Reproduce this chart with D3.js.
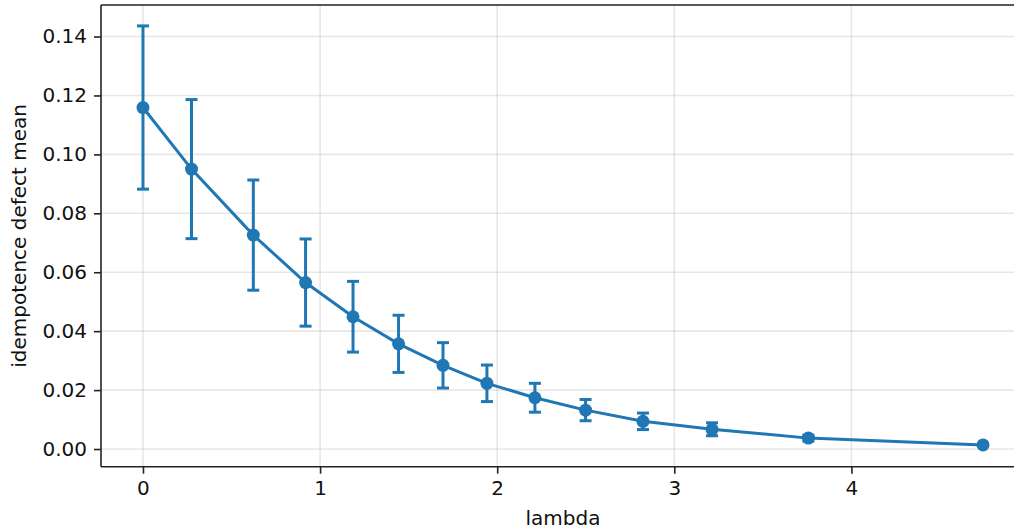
<!DOCTYPE html>
<html>
<head>
<meta charset="utf-8">
<script src="https://cdn.jsdelivr.net/npm/d3@7"></script>
<style>
  body { margin: 0; background: #fff; }
  svg { display: block; font-family: "DejaVu Sans", sans-serif; }
</style>
</head>
<body>
<div id="plot-container"></div>
<script>
// values
const lambdas = [0, 0.274, 0.623, 0.918, 1.186, 1.443, 1.694, 1.942, 2.213, 2.499, 2.823, 3.213, 3.757, 4.743];
const defectMean = [0.1159, 0.0950, 0.0726, 0.0565, 0.0449, 0.0357, 0.0284, 0.0223, 0.0174, 0.0132, 0.0094, 0.0067, 0.0037, 0.0014];
const defectErr = [0.0277, 0.0236, 0.0187, 0.0148, 0.0120, 0.0097, 0.0077, 0.0062, 0.0049, 0.0036, 0.0028, 0.0022, 0.0010, 0.0003];
const xTicks = [0, 1, 2, 3, 4];
const yTicks = [0.00, 0.02, 0.04, 0.06, 0.08, 0.10, 0.12, 0.14];

const W = 1014, H = 528;
const margin = { top: 5, right: -11, bottom: 61.3, left: 101 };
const width = W - margin.left - margin.right;
const height = H - margin.top - margin.bottom;
const blue = '#1f77b4';

const svg = d3.select('#plot-container')
  .append('svg')
  .attr('width', W)
  .attr('height', H);

const g = svg.append('g')
  .attr('transform', `translate(${margin.left},${margin.top})`);

const x = d3.scaleLinear().domain([-0.237, 4.98]).range([0, width]);
const y = d3.scaleLinear().domain([-0.0060, 0.1507]).range([height, 0]);

// grid
g.append('g')
  .selectAll('line')
  .data(xTicks)
  .join('line')
  .attr('x1', d => x(d)).attr('x2', d => x(d))
  .attr('y1', 0).attr('y2', height)
  .attr('stroke', '#b0b0b0').attr('stroke-opacity', 0.3).attr('stroke-width', 1.6);

g.append('g')
  .selectAll('line')
  .data(yTicks)
  .join('line')
  .attr('x1', 0).attr('x2', width)
  .attr('y1', d => y(d)).attr('y2', d => y(d))
  .attr('stroke', '#b0b0b0').attr('stroke-opacity', 0.3).attr('stroke-width', 1.6);

const data = lambdas.map((l, i) => ({ x: l, y: defectMean[i], e: defectErr[i] }));

// connecting line
g.append('path')
  .datum(data)
  .attr('fill', 'none')
  .attr('stroke', blue)
  .attr('stroke-width', 3)
  .attr('d', d3.line().x(d => x(d.x)).y(d => y(d.y)));

// error bars
const bars = g.append('g').attr('stroke', blue).attr('stroke-width', 3);
data.forEach(d => {
  const cx = x(d.x);
  bars.append('line')
    .attr('x1', cx).attr('x2', cx)
    .attr('y1', y(d.y - d.e)).attr('y2', y(d.y + d.e));
  [d.y - d.e, d.y + d.e].forEach(v => {
    bars.append('line')
      .attr('x1', cx - 6).attr('x2', cx + 6)
      .attr('y1', y(v)).attr('y2', y(v));
  });
});

// markers
g.append('g')
  .selectAll('circle')
  .data(data)
  .join('circle')
  .attr('cx', d => x(d.x))
  .attr('cy', d => y(d.y))
  .attr('r', 6.5)
  .attr('fill', blue);

// axes
const xAxis = g.append('g')
  .attr('transform', `translate(0,${height})`)
  .call(d3.axisBottom(x).tickValues(xTicks).tickFormat(d3.format('d')).tickSize(7).tickPadding(7));

const yAxis = g.append('g')
  .call(d3.axisLeft(y).tickValues(yTicks).tickFormat(d3.format('.2f')).tickSize(7).tickPadding(7));

[xAxis, yAxis].forEach(a => {
  a.selectAll('.domain').remove();
  a.selectAll('.tick line').attr('stroke', '#222').attr('stroke-width', 1.6);
  a.selectAll('.tick text').attr('fill', '#111').style('font-size', '20px').style('font-family', 'DejaVu Sans');
});

// spines: left, bottom, top (right one is outside the picture)
const spines = g.append('g').attr('stroke', '#222').attr('stroke-width', 1.6).attr('fill', 'none');
spines.append('line').attr('x1', 0).attr('x2', 0).attr('y1', 0).attr('y2', height);
spines.append('line').attr('x1', 0).attr('x2', width).attr('y1', height).attr('y2', height);
spines.append('line').attr('x1', 0).attr('x2', width).attr('y1', 0).attr('y2', 0);

// axis labels
svg.append('text')
  .attr('x', margin.left + width / 2)
  .attr('y', 525)
  .attr('text-anchor', 'middle')
  .attr('fill', '#111')
  .style('font-size', '20px')
  .text('lambda');

svg.append('text')
  .attr('transform', `translate(26,${margin.top + height / 2}) rotate(-90)`)
  .attr('text-anchor', 'middle')
  .attr('fill', '#111')
  .style('font-size', '20px')
  .text('idempotence defect mean');
</script>
</body>
</html>
